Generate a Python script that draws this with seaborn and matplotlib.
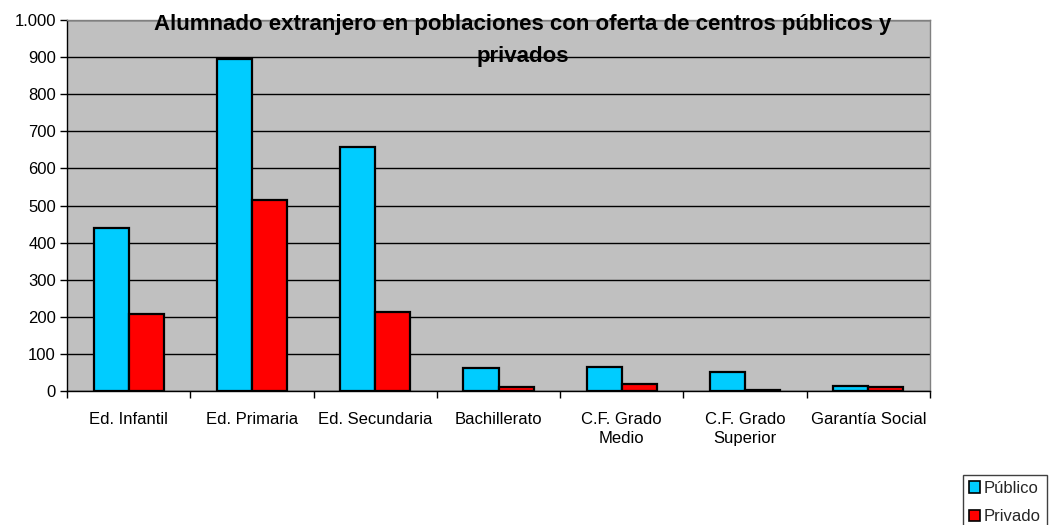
import matplotlib
matplotlib.use("Agg")
import matplotlib.pyplot as plt
import seaborn as sns
import pandas as pd
from matplotlib.ticker import FuncFormatter, MultipleLocator, FixedLocator
from matplotlib.patches import Patch

categorias = ["Ed. Infantil", "Ed. Primaria", "Ed. Secundaria", "Bachillerato",
              "C.F. Grado\nMedio", "C.F. Grado\nSuperior", "Garantía Social"]
publico = [440, 895, 657, 61, 66, 52, 14]
privado = [208, 515, 212, 10, 19, 3, 11]
series = ["Público", "Privado"]
colores = ["#00CCFF", "#FF0000"]
titulo = "Alumnado extranjero en poblaciones con oferta de centros públicos y\nprivados"

df = pd.DataFrame({
    "categoria": categorias * 2,
    "valor": publico + privado,
    "serie": [series[0]] * len(categorias) + [series[1]] * len(categorias),
})

sns.set_theme(style="white")
plt.rcParams["font.family"] = ["Liberation Sans", "DejaVu Sans"]

fig = plt.figure(figsize=(10.5, 5.25), dpi=100)
ax = fig.add_axes([67/1050, 1 - 391/525, (930-67)/1050, (391-20)/525])
ax.set_facecolor("#C0C0C0")

sns.barplot(data=df, x="categoria", y="valor", hue="serie", palette=colores,
            width=0.57, edgecolor="black", linewidth=1.6, ax=ax, legend=False,
            saturation=1, zorder=3)

ax.set_xlim(-0.5, len(categorias) - 0.5)
ax.set_ylim(0, 1000)
ax.yaxis.set_major_locator(MultipleLocator(100))
ax.yaxis.set_major_formatter(FuncFormatter(lambda v, p: f"{int(v):,}".replace(",", ".")))
ax.grid(axis="y", color="black", linewidth=1, zorder=0)
ax.set_axisbelow(True)
ax.set_xlabel("")
ax.set_ylabel("")

ax.tick_params(axis="x", which="major", length=0, labelsize=12, pad=15, colors="black")
ax.xaxis.set_minor_locator(FixedLocator([i - 0.5 for i in range(len(categorias) + 1)]))
ax.tick_params(axis="x", which="minor", length=5, width=1, color="black", bottom=True)
ax.tick_params(axis="y", which="major", length=5, width=1, color="black", left=True,
               labelsize=12, pad=3, labelcolor="black")
plt.setp(ax.get_xticklabels(), linespacing=1.35)

for s in ["top", "right"]:
    ax.spines[s].set_color("#808080")
    ax.spines[s].set_linewidth(1)
ax.spines["left"].set_color("black")
ax.spines["bottom"].set_color("black")
ax.spines["left"].set_linewidth(1)
ax.spines["bottom"].set_linewidth(1)

fig.text(0.498, 1 - 40.5/525, titulo, ha="center", va="center", fontsize=16,
         fontweight="bold", linespacing=1.72, color="black")

handles = [Patch(facecolor=c, edgecolor="black", linewidth=1.2) for c in colores]
leg = fig.legend(handles, series, loc="upper left", bbox_to_anchor=(963/1050, 1 - 475/525),
                 frameon=True, fancybox=False, edgecolor="#404040", framealpha=1,
                 fontsize=12, handlelength=0.66, handleheight=0.66, handletextpad=0.25,
                 borderpad=0.35, labelspacing=0.8, borderaxespad=0)
leg.get_frame().set_linewidth(1)

fig.savefig("out.png", dpi=100)
